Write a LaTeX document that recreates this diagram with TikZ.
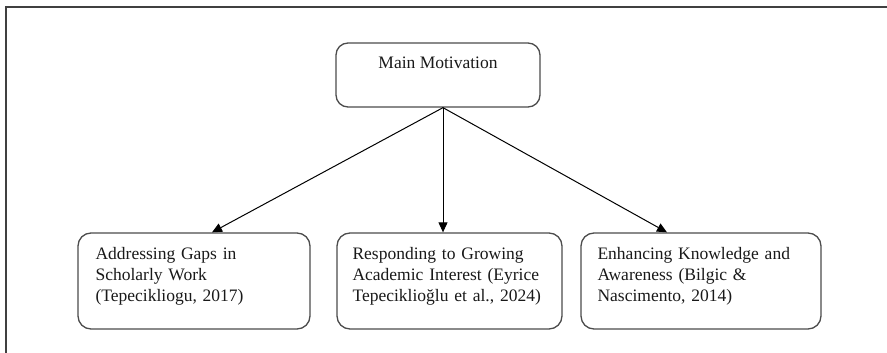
\documentclass[tikz,border=0pt]{standalone}
\usepackage{fontspec}
\setmainfont{Liberation Serif}
\usetikzlibrary{arrows.meta,positioning}

\begin{document}
\begin{tikzpicture}[x=1pt, y=-1pt,
  box/.style={draw=black!70, line width=1.3pt, rounded corners=13pt, inner sep=0pt, minimum height=96pt},
  boxtext/.style={inner sep=0pt, align=left, text width=215pt, font=\fontsize{17.5}{21}\selectfont, text=black!90},
  arr/.style={-{Triangle[length=10pt, width=9pt]}, line width=1pt, black}]
  \useasboundingbox (0,0) rectangle (887,353);

  % frame lines (top and left only)
  \draw[line width=2pt, black!75] (887,7.5) -- (6,7.5) -- (6,353);

  % Main box, text sits near the top
  \node[box, rounded corners=12pt, minimum width=204pt, minimum height=64pt] (main) at (438,75) {};
  \node[font=\fontsize{17.5}{21}\selectfont, text=black!90, inner sep=0pt, anchor=base] (maintext) at (438,69) {Main Motivation};

  % Three child boxes
  \node[box, minimum width=232pt] (gaps) at (194,281) {};
  \node[box, minimum width=225pt] (growing) at (449.5,281) {};
  \node[box, minimum width=240pt] (aware) at (701,281) {};

  \node[boxtext, below right=27pt and 18pt of gaps.north west, anchor=base west] (gapstext)
    {Addressing Gaps in\\Scholarly Work\\(Tepecikliogu, 2017)};
  \node[boxtext, below right=27pt and 16pt of growing.north west, anchor=base west] (growingtext)
    {Responding to Growing\\Academic Interest (Eyrice\\Tepeciklioğlu et al., 2024)};
  \node[boxtext, below right=27pt and 17pt of aware.north west, anchor=base west] (awaretext)
    {Enhancing Knowledge and\\Awareness (Bilgic \&\\Nascimento, 2014)};

  % Arrows fan out from one point under the main box
  \coordinate (fork) at ([xshift=5pt]main.south);
  \draw[arr] (fork) -- ([xshift=18pt]gaps.north);
  \draw[arr] (fork) -- ([xshift=-6.5pt]growing.north);
  \draw[arr] (fork) -- ([xshift=-34pt]aware.north);
\end{tikzpicture}
\end{document}
